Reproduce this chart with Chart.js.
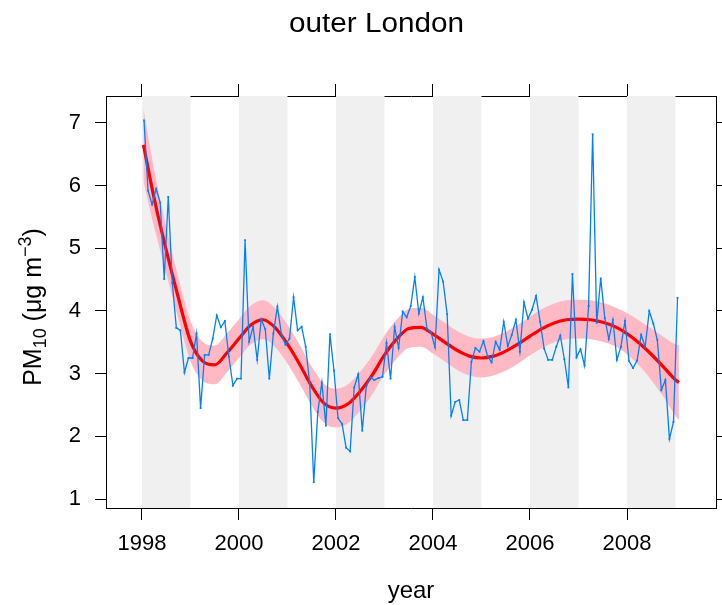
<!DOCTYPE html>
<html>
<head>
<meta charset="utf-8">
<script src="https://cdn.jsdelivr.net/npm/chart.js@4.4.1/dist/chart.umd.min.js"></script>
<style>
  html, body { margin: 0; padding: 0; background: #ffffff; }
  #wrap { width: 722px; height: 605px; position: relative; }
</style>
</head>
<body>
<div id="wrap"><canvas id="c" width="722" height="605"></canvas></div>
<script>
// ---------- data ----------
const chartTitle = "outer London";
const xAxisTitle = "year";
const startYear = 1998;            // first monthly value is January 1998
const pm10 = [
  7.04, 5.92, 5.70, 5.95, 5.73, 4.51, 5.82, 4.45, 3.73, 3.69, 3.02, 3.25,
  3.25, 3.64, 2.45, 3.30, 3.30, 3.56, 3.93, 3.74, 3.84, 3.27, 2.81, 2.92,
  2.92, 5.13, 3.51, 3.75, 3.22, 3.87, 3.71, 2.92, 3.64, 4.07, 3.63, 3.46,
  3.56, 4.22, 3.69, 3.75, 3.43, 2.84, 1.27, 2.39, 2.86, 2.17, 3.63, 3.05,
  2.29, 2.20, 1.82, 1.76, 2.78, 2.99, 2.09, 2.80, 2.94, 2.90, 2.93, 2.95,
  3.49, 2.92, 3.75, 3.41, 3.99, 3.90, 4.08, 4.54, 3.96, 4.22, 3.72, 3.66,
  3.42, 4.66, 4.47, 3.95, 2.33, 2.55, 2.58, 2.26, 2.26, 3.19, 3.41, 3.35,
  3.52, 3.28, 3.18, 3.51, 3.38, 3.83, 3.44, 3.62, 3.86, 3.35, 4.14, 3.88,
  4.02, 4.24, 3.83, 3.40, 3.22, 3.22, 3.43, 3.61, 3.23, 2.78, 4.59, 3.26,
  3.39, 3.13, 4.08, 6.82, 3.81, 4.52, 3.89, 3.55, 3.86, 3.22, 3.43, 3.84,
  3.20, 3.09, 3.21, 3.62, 3.43, 4.00, 3.80, 3.54, 2.74, 2.90, 1.96, 2.23,
  4.21
];
const trendYears = [
  1998.03, 1998.25, 1998.5, 1998.75, 1999.0, 1999.25, 1999.5, 1999.75,
  2000.0, 2000.25, 2000.5, 2000.75, 2001.0, 2001.25, 2001.5, 2001.75,
  2002.0, 2002.25, 2002.5, 2002.75, 2003.0, 2003.25, 2003.5, 2003.75,
  2004.0, 2004.25, 2004.5, 2004.75, 2005.0, 2005.25, 2005.5, 2005.75,
  2006.0, 2006.25, 2006.5, 2006.75, 2007.0, 2007.25, 2007.5, 2007.75,
  2008.0, 2008.25, 2008.5, 2008.75, 2009.0, 2009.07
];
const trend = [
  6.65, 5.80, 4.97, 4.21, 3.52, 3.20, 3.14, 3.33,
  3.56, 3.78, 3.86, 3.73, 3.47, 3.15, 2.80, 2.53,
  2.45, 2.52, 2.72, 2.98, 3.30, 3.55, 3.72, 3.74,
  3.63, 3.50, 3.37, 3.28, 3.25, 3.28, 3.36, 3.47,
  3.60, 3.72, 3.81, 3.86, 3.87, 3.86, 3.82, 3.75,
  3.64, 3.49, 3.31, 3.11, 2.90, 2.86
];
const trendLower = [
  6.07, 5.34, 4.60, 3.88, 3.20, 2.89, 2.83, 3.02,
  3.25, 3.47, 3.55, 3.42, 3.16, 2.84, 2.49, 2.22,
  2.14, 2.21, 2.41, 2.67, 2.99, 3.24, 3.41, 3.43,
  3.32, 3.19, 3.06, 2.97, 2.94, 2.97, 3.05, 3.16,
  3.29, 3.41, 3.50, 3.55, 3.56, 3.55, 3.51, 3.44,
  3.31, 3.13, 2.90, 2.63, 2.33, 2.26
];
const trendUpper = [
  7.23, 6.26, 5.34, 4.54, 3.84, 3.51, 3.45, 3.64,
  3.87, 4.09, 4.17, 4.04, 3.78, 3.46, 3.11, 2.84,
  2.76, 2.83, 3.03, 3.29, 3.61, 3.86, 4.03, 4.05,
  3.94, 3.81, 3.68, 3.59, 3.56, 3.59, 3.67, 3.78,
  3.91, 4.03, 4.12, 4.17, 4.18, 4.17, 4.13, 4.06,
  3.97, 3.85, 3.72, 3.59, 3.47, 3.46
];
const shadedYears = [1998, 2000, 2002, 2004, 2006, 2008]; // each shaded for one year
const xTicks = [1998, 2000, 2002, 2004, 2006, 2008];
const yTicks = [1, 2, 3, 4, 5, 6, 7];

// ---------- build ----------
const monthPts = pm10.map((v, i) => ({ x: startYear + (i + 0.5) / 12, y: v }));
const trendPts = trend.map((v, i) => ({ x: trendYears[i], y: v }));
const lowerPts = trendLower.map((v, i) => ({ x: trendYears[i], y: v }));
const upperPts = trendUpper.map((v, i) => ({ x: trendYears[i], y: v }));

const FONT = "'Liberation Sans', Arial, Helvetica, sans-serif";
const X_MIN = 1997.258, X_MAX = 2009.835, Y_MIN = 0.857, Y_MAX = 7.43;

const shadePlugin = {
  id: 'yearShade',
  beforeDatasetsDraw(chart) {
    const { ctx, chartArea, scales } = chart;
    ctx.save();
    ctx.fillStyle = '#f0f0f0';
    shadedYears.forEach(y0 => {
      const x0 = Math.max(scales.x.getPixelForValue(y0), chartArea.left);
      const x1 = Math.min(scales.x.getPixelForValue(y0 + 1), chartArea.right);
      ctx.fillRect(x0, chartArea.top, x1 - x0, chartArea.bottom - chartArea.top);
    });
    ctx.restore();
  }
};

const textPlugin = {
  id: 'texts',
  afterDraw(chart) {
    const { ctx, chartArea } = chart;
    ctx.save();
    ctx.fillStyle = '#000';
    // title
    ctx.save();
    ctx.font = '27px ' + FONT;
    ctx.textAlign = 'center';
    ctx.textBaseline = 'alphabetic';
    ctx.translate(376.5, 32.3);
    ctx.scale(1.1, 1);
    ctx.fillText(chartTitle, 0, 0);
    ctx.restore();
    // x title
    ctx.font = '24px ' + FONT;
    ctx.textAlign = 'center';
    ctx.textBaseline = 'alphabetic';
    ctx.fillText(xAxisTitle, (chartArea.left + chartArea.right) / 2, 597.5);
    // y title with sub/superscript
    const parts = [
      { t: 'PM', size: 25, dy: 0 },
      { t: '10', size: 18, dy: 5 },
      { t: ' (\u03bcg m', size: 25, dy: 0 },
      { t: '\u22123', size: 18, dy: -10 },
      { t: ')', size: 25, dy: 0 }
    ];
    let total = 0;
    parts.forEach(p => { ctx.font = p.size + 'px ' + FONT; p.w = ctx.measureText(p.t).width; total += p.w; });
    ctx.translate(41, 307);
    ctx.rotate(-Math.PI / 2);
    ctx.textAlign = 'left';
    let xx = -total / 2;
    parts.forEach(p => {
      ctx.font = p.size + 'px ' + FONT;
      ctx.fillText(p.t, xx, p.dy);
      xx += p.w;
    });
    ctx.restore();
  }
};

const gridOpts = { display: true, drawOnChartArea: false, drawTicks: true, tickLength: 12, color: '#000', lineWidth: 1 };
const borderOpts = { display: true, color: '#000', width: 1 };

new Chart(document.getElementById('c'), {
  type: 'line',
  data: {
    datasets: [
      { label: 'monthly', data: monthPts, borderColor: '#0080ff', backgroundColor: '#0080ff',
        borderWidth: 1.3, pointRadius: 1.3, pointBorderWidth: 0, pointStyle: 'rect', tension: 0, fill: false, order: 0 },
      { label: 'trend', data: trendPts, borderColor: '#ff0000', borderWidth: 3.2, pointRadius: 0,
        cubicInterpolationMode: 'monotone', fill: false, order: 1 },
      { label: 'lower', data: lowerPts, borderColor: 'rgba(0,0,0,0)', borderWidth: 0, pointRadius: 0,
        cubicInterpolationMode: 'monotone', fill: false, order: 3 },
      { label: 'upper', data: upperPts, borderColor: 'rgba(0,0,0,0)', borderWidth: 0, pointRadius: 0,
        cubicInterpolationMode: 'monotone', fill: '-1', backgroundColor: '#ffb9c5', order: 2 }
    ]
  },
  options: {
    responsive: false,
    animation: false,
    devicePixelRatio: 1,
    layout: { padding: 0 },
    plugins: { legend: { display: false }, tooltip: { enabled: false }, title: { display: false } },
    scales: {
      x: {
        type: 'linear', position: 'bottom', min: X_MIN, max: X_MAX,
        afterBuildTicks: s => { s.ticks = xTicks.map(v => ({ value: v })); },
        afterFit: s => { s.height = 97; },
        ticks: { font: { size: 22, family: FONT }, color: '#000', padding: 11, maxRotation: 0, autoSkip: false,
                 callback: v => String(v) },
        grid: gridOpts, border: borderOpts
      },
      x2: {
        type: 'linear', position: 'top', min: X_MIN, max: X_MAX,
        afterBuildTicks: s => { s.ticks = xTicks.map(v => ({ value: v })); },
        afterFit: s => { s.height = 96; },
        ticks: { display: false },
        grid: gridOpts, border: borderOpts
      },
      y: {
        type: 'linear', position: 'left', min: Y_MIN, max: Y_MAX,
        afterBuildTicks: s => { s.ticks = yTicks.map(v => ({ value: v })); },
        afterFit: s => { s.width = 106; },
        ticks: { font: { size: 22, family: FONT }, color: '#000', padding: 14, callback: v => String(v) },
        grid: Object.assign({}, gridOpts, { tickLength: 11 }), border: borderOpts
      },
      y2: {
        type: 'linear', position: 'right', min: Y_MIN, max: Y_MAX,
        afterBuildTicks: s => { s.ticks = yTicks.map(v => ({ value: v })); },
        afterFit: s => { s.width = 6; },
        ticks: { display: false },
        grid: gridOpts, border: borderOpts
      }
    }
  },
  plugins: [shadePlugin, textPlugin]
});
</script>
</body>
</html>
